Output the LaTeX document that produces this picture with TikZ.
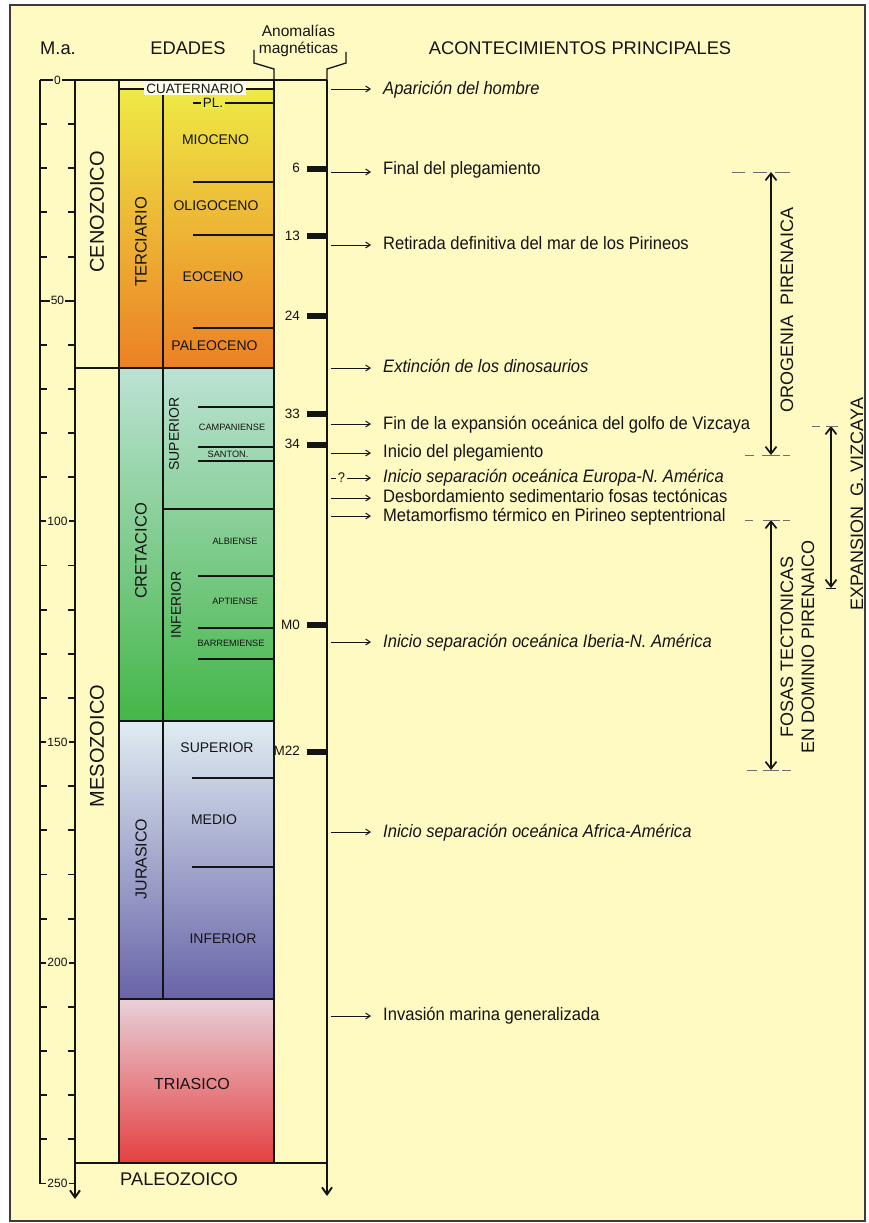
\documentclass[tikz,border=0pt]{standalone}
\usepackage{fontspec}
\setmainfont{Liberation Sans}
\newfontfamily\evfont[FakeStretch=0.92]{Liberation Sans}
\usetikzlibrary{arrows.meta}
\definecolor{bg}{RGB}{255,249,194}
\definecolor{framegray}{RGB}{60,60,60}
\definecolor{dashgray}{RGB}{110,110,110}
\definecolor{ink}{RGB}{20,20,20}
\definecolor{terT}{RGB}{238,234,70}
\definecolor{terM}{RGB}{240,192,48}
\definecolor{terB}{RGB}{236,128,36}
\definecolor{creT}{RGB}{188,226,212}
\definecolor{creB}{RGB}{68,182,72}
\definecolor{jurT}{RGB}{224,236,242}
\definecolor{jurB}{RGB}{104,100,168}
\definecolor{triT}{RGB}{232,208,218}
\definecolor{triB}{RGB}{228,64,64}
\definecolor{quat}{RGB}{255,253,238}
\newcommand\fs[1]{\fontsize{#1}{#1}\selectfont}
\tikzset{
  ln/.style={line width=1.9pt, draw=ink},
  thinln/.style={line width=1.3pt, draw=ink},
  lbl/.style={inner sep=0pt, text=ink},
  evtext/.style={anchor=base west, inner sep=0pt, text=ink, font=\evfont\fs{18}},
  evarr/.style={line width=1pt, draw=ink, -{Straight Barb[length=4.5pt,width=6pt]}, shorten >=12pt},
  bigarr/.style={line width=1.7pt, draw=ink, {Straight Barb[length=7pt,width=11pt]}-{Straight Barb[length=7pt,width=11pt]}},
  colarr/.style={line width=1.9pt, draw=ink, -{Straight Barb[length=7pt,width=10pt]}},
  dsh/.style={line width=1pt, draw=dashgray},
  anbar/.style={fill=ink},
  anlbl/.style={anchor=east, inner sep=0pt, text=ink, font=\fs{13.5}},
  scl/.style={inner sep=1.2pt, fill=bg, text=ink, font=\fs{12}},
}
\begin{document}
\begin{tikzpicture}[x=1pt,y=-1pt]
\useasboundingbox (0,0) rectangle (868,1223);
\fill[white] (0,0) rectangle (868,1223);
\draw[line width=2.5pt, draw=framegray, fill=bg] (10,5) rectangle (865,1221);

% shadings
\shade[top color=terT, middle color=terM, bottom color=terB] (119,89) rectangle (274,368);
\shade[top color=creT, bottom color=creB] (119,368) rectangle (274,721);
\shade[top color=jurT, bottom color=jurB] (119,721) rectangle (274,999);
\shade[top color=triT, bottom color=triB] (119,999) rectangle (274,1163);

% headers
\node[lbl, font=\fs{18.3}] (hma) at (58,48) {M.a.};
\node[lbl, font=\fs{18.3}] (hed) at (188,48) {EDADES};
\node[lbl, font=\fs{18.3}] (hac) at (580,48) {ACONTECIMIENTOS PRINCIPALES};
\node[lbl, anchor=base, font=\fs{15.5}] (han1) at (298.5,37) {Anomalías};
\node[lbl, anchor=base, font=\fs{15.5}] (han2) at (298.5,53) {magnéticas};
\draw[thinln] (254,50) -- (254,63) -- (274,69) -- (274,80);
\draw[thinln] (346,52) -- (346,63) -- (327,69) -- (327,80);

% main frame lines
\coordinate (c0) at (75,80);
\coordinate (c0b) at (75,1199);
\coordinate (c3) at (327,80);
\coordinate (c3b) at (327,1196);
\draw[ln] (c0) -- (c3);
\draw[colarr] (c0) -- (c0b);
\draw[colarr] (c3) -- (c3b);
\draw[ln] (119,80) -- (119,1163);
\draw[ln] (274,80) -- (274,1163);
\draw[ln] (163,89) -- (163,999);
\draw[ln] (119,89) -- (274,89);
\draw[ln] (75,368) -- (274,368);
\draw[ln] (119,721) -- (274,721);
\draw[ln] (119,999) -- (274,999);
\draw[ln] (75,1163) -- (327,1163);
% epoch lines
\foreach \yy in {103,182,235,328} {\draw[ln] (193,\yy) -- (274,\yy);}
\draw[ln] (163,509) -- (274,509);
\foreach \yy in {407,447,461,576,628,659} {\draw[ln] (198,\yy) -- (274,\yy);}
\foreach \yy in {778,867} {\draw[ln] (192,\yy) -- (274,\yy);}

% scale axis
\draw[ln] (40,80) -- (40,1184);
\foreach \t in {10,20,30,40,60,70,80,90,110,120,130,140,160,170,180,190,210,220,230,240} {
  \pgfmathsetmacro\yy{80+4.414*\t}
  \draw[ln] (40,\yy) -- (47,\yy) (68,\yy) -- (75,\yy);
}
\foreach \t/\nm in {0/s0,50/s50,100/s100,150/s150,200/s200,250/s250} {
  \pgfmathsetmacro\yy{80+4.414*\t}
  \draw[ln] (40,\yy) -- (75,\yy);
  \node[scl] (\nm) at (57.5,\yy) {\t};
}

% era labels
\node[lbl, rotate=90, font=\fs{20}] (cen) at (97,212) {CENOZOICO};
\node[lbl, rotate=90, font=\fs{20}] (mes) at (97,746) {MESOZOICO};
\node[lbl, rotate=90, font=\fs{16.5}] (ter) at (141,242) {TERCIARIO};
\node[lbl, rotate=90, font=\fs{16.5}] (cre) at (141,551) {CRETACICO};
\node[lbl, rotate=90, font=\fs{16}] (jur) at (141,859) {JURASICO};
\node[lbl, rotate=90, font=\fs{14}] (csup) at (174,434) {SUPERIOR};
\node[lbl, rotate=90, font=\fs{14}] (cinf) at (176,605) {INFERIOR};

\node[inner sep=2pt, fill=quat, text=ink, font=\fs{13.5}] (cua) at (195,88.5) {CUATERNARIO};
\node[inner sep=1.5pt, fill=terT, text=ink, font=\fs{13.5}] (pl) at (213,103) {PL.};
\node[lbl, font=\fs{14}] (mio) at (215.5,140) {MIOCENO};
\node[lbl, font=\fs{14}] (oli) at (216,206) {OLIGOCENO};
\node[lbl, font=\fs{14}] (eoc) at (213,277) {EOCENO};
\node[lbl, font=\fs{14}] (pal) at (214.5,346) {PALEOCENO};
\node[lbl, font=\fs{9.2}] (cam) at (232,427) {CAMPANIENSE};
\node[lbl, font=\fs{9.2}] (san) at (228,454) {SANTON.};
\node[lbl, font=\fs{9.2}] (alb) at (235,541) {ALBIENSE};
\node[lbl, font=\fs{9.2}] (apt) at (235,601) {APTIENSE};
\node[lbl, font=\fs{9.2}] (bar) at (231,643) {BARREMIENSE};
\node[lbl, font=\fs{14}] (jsup) at (217,748) {SUPERIOR};
\node[lbl, font=\fs{14}] (jmed) at (214,820) {MEDIO};
\node[lbl, font=\fs{14}] (jinf) at (223,939) {INFERIOR};
\node[lbl, font=\fs{16}] (tri) at (192,1084) {TRIASICO};
\node[lbl, font=\fs{18.3}] (paleo) at (179,1179) {PALEOZOICO};

% magnetic anomalies
\foreach \yy/\tx/\nm in {168.5/6/a6,236/13/a13,316/24/a24,414/33/a33,444.5/34/a34,625/M0/am0,751.5/M22/am22} {
  \fill[anbar] (307,\yy-3) rectangle (327,\yy+3);
  \node[anlbl] (\nm) at (300,\yy-0.5) {\tx};
}

% events
\node[evtext] (ev1) at (383,94) {\itshape Aparición del hombre};
\node[evtext] (ev2) at (383,174) {Final del plegamiento};
\node[evtext] (ev3) at (383,249) {Retirada definitiva del mar de los Pirineos};
\node[evtext] (ev4) at (383,372) {\itshape Extinción de los dinosaurios};
\node[evtext] (ev5) at (383,429) {Fin de la expansión oceánica del golfo de Vizcaya};
\node[evtext] (ev6) at (383,457) {Inicio del plegamiento};
\node[evtext] (ev7) at (383,482) {\itshape Inicio separación oceánica Europa-N. América};
\node[evtext] (ev8) at (383,502.5) {Desbordamiento sedimentario fosas tectónicas};
\node[evtext] (ev9) at (383,521) {Metamorfismo térmico en Pirineo septentrional};
\node[evtext] (ev10) at (383,647) {\itshape Inicio separación oceánica Iberia-N. América};
\node[evtext] (ev11) at (383,837) {\itshape Inicio separación oceánica Africa-América};
\node[evtext] (ev12) at (383,1020.5) {Invasión marina generalizada};
\foreach \i/\yy in {1/89,2/172,3/245,4/368,5/424,6/453,8/498,9/516,10/642,11/832,12/1016} {
  \coordinate (ea\i) at (331,\yy);
  \draw[evarr] (ea\i) -- (ea\i -| ev\i.west);
}
\coordinate (ea7d) at (331,478);
\coordinate (ea7) at (347,478);
\draw[line width=1pt, draw=ink] (ea7d) -- ++(5,0);
\node[lbl, font=\evfont\fs{14}] (q7) at (341.5,478) {?};
\draw[evarr] (ea7) -- (ea7 -| ev7.west);

% right-side ranges
\coordinate (og1) at (771,172);
\coordinate (og2) at (771,455);
\draw[bigarr] (og1) -- (og2);
\node[lbl, rotate=90, font=\fs{18}] (ogt) at (787,310) {OROGENIA\ \ PIRENAICA};
\draw[dsh] (732,172) -- (745,172) (753,172) -- (767,172) (775,172) -- (790,172);
\draw[dsh] (745,455) -- (754,455) (762,455) -- (780,455) (783,455) -- (790,455);

\coordinate (fo1) at (771,520);
\coordinate (fo2) at (771,770);
\draw[bigarr] (fo1) -- (fo2);
\node[lbl, rotate=90, align=center, font=\fontsize{18}{21}\selectfont] (fot) at (797.5,647) {FOSAS TECTONICAS\\EN DOMINIO PIRENAICO};
\draw[dsh] (745,520) -- (753,520) (763,520) -- (780,520) (783,520) -- (790,520);
\draw[dsh] (747,770) -- (757,770) (763,770) -- (779,770) (782,770) -- (791,770);

\coordinate (ex1) at (831,426);
\coordinate (ex2) at (831,588);
\draw[bigarr] (ex1) -- (ex2);
\node[lbl, rotate=90, font=\fs{18}] (ext) at (857,504) {EXPANSION\ \ G. VIZCAYA};
\draw[dsh] (812,426) -- (820,426) (826,426) -- (838,426);
\draw[line width=1pt, draw=ink] (826,588) -- (836,588);
\end{tikzpicture}
\end{document}
